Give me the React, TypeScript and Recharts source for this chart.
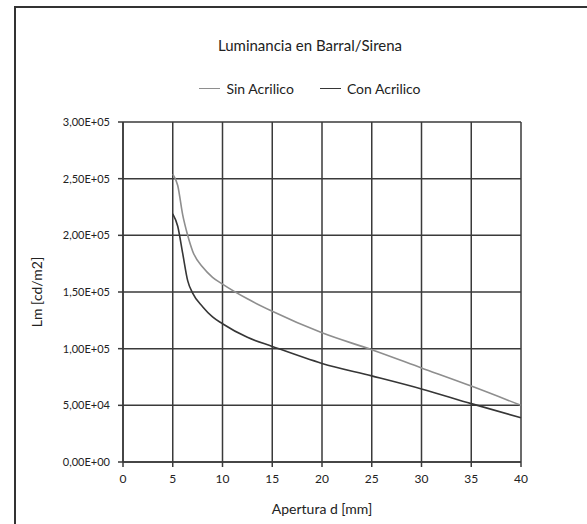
import { LineChart, Line, XAxis, YAxis, CartesianGrid } from 'recharts';

// Aperture d [mm]
const aperture = [5, 5.5, 6, 6.5, 7, 8, 9, 10, 12.5, 15, 20, 25, 30, 35, 40];
// Luminance, no acrylic
const sinAcrilico = [254000, 244000, 218000, 200000, 186000, 172000, 163000, 157000, 144000, 133000, 114000, 99000, 83000, 67000, 50000];
// Luminance, with acrylic
const conAcrilico = [219000, 208000, 184000, 160000, 149000, 137000, 128000, 122000, 110000, 102000, 87000, 76000, 64500, 51500, 39000];

const xTicks = [0, 5, 10, 15, 20, 25, 30, 35, 40];
const yTicks = [0, 50000, 100000, 150000, 200000, 250000, 300000];

const data = aperture.map((d, i) => ({ d, sin: sinAcrilico[i], con: conAcrilico[i] }));

const FONT = 'Lato, "Open Sans", sans-serif';

const series = [
  { key: 'sin', name: 'Sin Acrilico', color: '#8e8e8e' },
  { key: 'con', name: 'Con Acrilico', color: '#363636' },
];

// 3,00E+05 style labels
const sciFormat = (v: number) => {
  const [m, e] = v.toExponential(2).split('e');
  const exp = Math.abs(Number(e)).toString().padStart(2, '0');
  return `${m.replace('.', ',')}E${Number(e) < 0 ? '-' : '+'}${exp}`;
};

export default function App() {
  return (
    <div style={{ position: 'absolute', left: 0, top: 0, width: 587, height: 524, overflow: 'hidden', background: '#fff' }}>
      <div
        style={{
          position: 'absolute',
          left: 14,
          top: 6,
          width: 620,
          height: 600,
          border: '2px solid #333',
          boxSizing: 'border-box',
        }}
      />
      <div
        style={{
          position: 'absolute',
          left: 0,
          top: 36,
          width: 620,
          textAlign: 'center',
          fontFamily: FONT,
          fontSize: 15,
          color: '#222',
        }}
      >
        Luminancia en Barral/Sirena
      </div>
      <div
        style={{
          position: 'absolute',
          left: 0,
          top: 80,
          width: 620,
          display: 'flex',
          justifyContent: 'center',
          gap: 26,
          fontFamily: FONT,
          fontSize: 14,
          color: '#222',
        }}
      >
        {series.map((s) => (
          <span key={s.key} style={{ display: 'flex', alignItems: 'center', gap: 6 }}>
            <span style={{ display: 'inline-block', width: 21, height: 0, borderTop: `1.5px solid ${s.color}` }} />
            {s.name}
          </span>
        ))}
      </div>
      <div style={{ position: 'absolute', left: 0, top: 0 }}>
        <LineChart width={587} height={524} data={data} margin={{ top: 122, right: 66, bottom: 0, left: 0 }}>
          <CartesianGrid stroke="#3a3a3a" strokeWidth={1.5} horizontalValues={yTicks} verticalValues={xTicks} />
          <XAxis
            dataKey="d"
            type="number"
            domain={[0, 40]}
            ticks={xTicks}
            height={62}
            tickSize={5}
            stroke="#3a3a3a"
            strokeWidth={1.5}
            tick={{ fill: '#222', fontSize: 12, fontFamily: FONT }}
            tickMargin={7}
            label={{ value: 'Apertura d [mm]', position: 'insideBottom', offset: 10, style: { fill: '#222', fontSize: 14, fontFamily: FONT } }}
          />
          <YAxis
            type="number"
            domain={[0, 300000]}
            ticks={yTicks}
            width={123}
            tickSize={5}
            stroke="#3a3a3a"
            strokeWidth={1.5}
            tickFormatter={sciFormat}
            tickMargin={8}
            tick={{ fill: '#222', fontSize: 11, fontFamily: FONT }}
            label={{
              value: 'Lm [cd/m2]',
              angle: -90,
              position: 'insideLeft',
              offset: 37,
              style: { textAnchor: 'middle', fill: '#222', fontSize: 14, fontFamily: FONT },
            }}
          />
          {series.map((s) => (
            <Line
              key={s.key}
              type="monotone"
              dataKey={s.key}
              name={s.name}
              stroke={s.color}
              strokeWidth={1.6}
              dot={false}
              isAnimationActive={false}
            />
          ))}
        </LineChart>
      </div>
    </div>
  );
}
